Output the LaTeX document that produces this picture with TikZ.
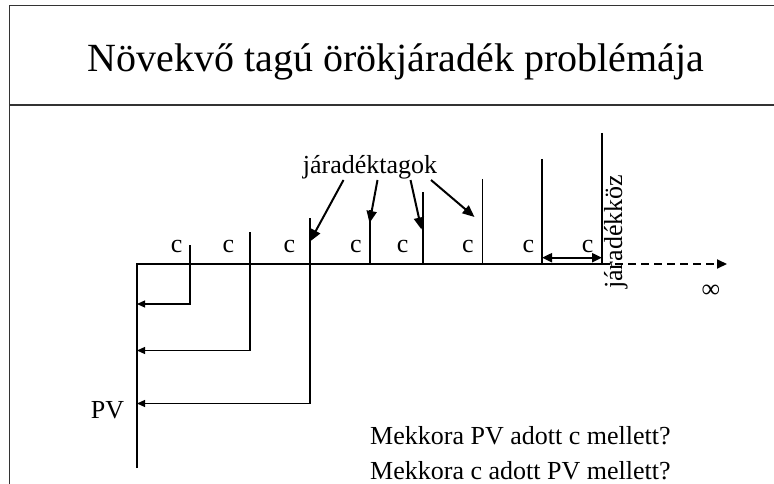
\documentclass[tikz,border=0pt]{standalone}
\usepackage{fontspec}
\setmainfont{Liberation Serif}
\usetikzlibrary{arrows.meta}
\tikzset{
  frame/.style={line width=1.2pt, draw=black!80},
  tick/.style={line width=1.2pt},
  lbl/.style={font=\fontsize{26}{35}\selectfont, inner sep=0pt},
  pvarrow/.style={line width=1.2pt, -{Triangle[length=8pt,width=7pt]}},
  bigarrow/.style={line width=2pt, -{Triangle[length=12pt,width=10pt]}},
  dblarrow/.style={line width=2pt, {Triangle[length=10pt,width=9pt]}-{Triangle[length=10pt,width=9pt]}},
  axisdash/.style={line width=2pt, dash pattern=on 8pt off 5pt, -{Triangle[length=10pt,width=9pt]}}
}
\begin{document}
\begin{tikzpicture}[x=1pt,y=-1pt]
\useasboundingbox (0,0) rectangle (774,484);
% frame
\draw[frame] (9.5,484) -- (9.5,5.5) -- (774,5.5);
\draw[frame] (9.5,105) -- (774,105);
% title
\node[inner sep=0pt, anchor=base, font=\fontsize{40}{48}\selectfont] (title) at (396,72) {Növekvő tagú örökjáradék problémája};
% axes
\coordinate (o) at (137,264);
\coordinate (pvb) at (137,468);
\coordinate (t8) at (602,264);
\coordinate (inf) at (727,264);
\draw[tick] (pvb) -- (o) -- (t8);
\draw[axisdash] (t8) -- (inf);
% ticks
\coordinate (t1top) at (190,245);
\coordinate (t2top) at (250,232);
\coordinate (t3top) at (310,218);
\coordinate (t4top) at (370,210);
\coordinate (t5top) at (423,192);
\coordinate (t6top) at (482.5,179);
\coordinate (t7top) at (542,159);
\coordinate (t8top) at (602,133);
\coordinate (p1) at (137,304);
\coordinate (p2) at (137,350.5);
\coordinate (p3) at (137,403.5);
\draw[pvarrow] (t1top) |- (p1);
\draw[pvarrow] (t2top) |- (p2);
\draw[pvarrow] (t3top) |- (p3);
\draw[tick] (t4top) -- (370,264);
\draw[tick] (t5top) -- (423,264);
\draw[tick] (t6top) -- (482.5,264);
\draw[tick] (t7top) -- (542,264);
\draw[tick] (t8top) -- (t8);
% c labels
\foreach \x [count=\i] in {176.7,228.3,289.3,356,402.7,468,528.3,587.7}
  \node[lbl, anchor=base] (c\i) at (\x,252) {c};
% jaradektagok
\node[lbl, anchor=base] (jt) at (370,174) {járadéktagok};
\coordinate (a1s) at (343.5,180);
\coordinate (a2s) at (377.5,180);
\coordinate (a3s) at (410.5,180);
\coordinate (a4s) at (431,180);
\coordinate (a1e) at (310,241.5);
\coordinate (a2e) at (369.5,223);
\coordinate (a3e) at (421.5,229.5);
\coordinate (a4e) at (474.5,217);
\draw[bigarrow] (a1s) -- (a1e);
\draw[bigarrow] (a2s) -- (a2e);
\draw[bigarrow] (a3s) -- (a3e);
\draw[bigarrow] (a4s) -- (a4e);
% jaradekkoz
\coordinate (d1) at (542,257.7);
\coordinate (d2) at (602,257.7);
\draw[dblarrow] (d1) -- (d2);
\node[lbl, anchor=base west, rotate=90] (jk) at (622,289) {járadékköz};
% infinity
\node[lbl] (infty) at (711,291) {∞};
% PV
\node[lbl, anchor=base] (pv) at (107.5,418) {PV};
% questions
\node[lbl, anchor=base west] (q1) at (370,444) {Mekkora PV adott c mellett?};
\node[lbl, anchor=base west] (q2) at (370,479) {Mekkora c adott PV mellett?};
\end{tikzpicture}
\end{document}
